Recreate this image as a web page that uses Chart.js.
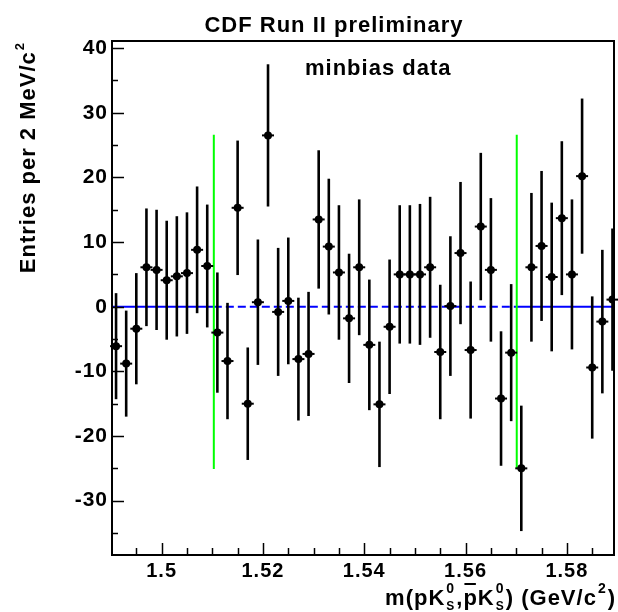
<!DOCTYPE html>
<html>
<head>
<meta charset="utf-8">
<script src="https://cdn.jsdelivr.net/npm/chart.js@4.4.1/dist/chart.umd.min.js"></script>
<style>
  html, body { margin: 0; padding: 0; background: #fff; }
  #wrap { width: 618px; height: 612px; }
</style>
</head>
<body>
<div id="wrap"><canvas id="plot" width="618" height="612"></canvas></div>
<script>
'use strict';

/* ── Data ── */
const binCenters = [
  1.491, 1.493, 1.495, 1.497, 1.499, 1.501, 1.503, 1.505, 1.507, 1.509,
  1.511, 1.513, 1.515, 1.517, 1.519, 1.521, 1.523, 1.525, 1.527, 1.529,
  1.531, 1.533, 1.535, 1.537, 1.539, 1.541, 1.543, 1.545, 1.547, 1.549,
  1.551, 1.553, 1.555, 1.557, 1.559, 1.561, 1.563, 1.565, 1.567, 1.569,
  1.571, 1.573, 1.575, 1.577, 1.579, 1.581, 1.583, 1.585, 1.587, 1.589
];
const entries = [
  -6.1, -8.8, -3.4, 6.1, 5.7, 4.1, 4.7, 5.2, 8.8, 6.3,
  -4.0, -8.4, 15.3, -15.0, 0.7, 26.5, -0.8, 0.9, -8.1, -7.3,
  13.5, 9.3, 5.3, -1.8, 6.1, -5.9, -15.1, -3.1, 5.0, 5.0,
  5.0, 6.1, -7.0, 0.1, 8.3, -6.7, 12.4, 5.7, -14.2, -7.1,
  -25.0, 6.1, 9.4, 4.6, 13.7, 5.0, 20.2, -9.4, -2.3, 1.1
];
const errors = [
  8.2, 8.2, 8.6, 9.1, 9.3, 9.2, 9.3, 9.4, 9.8, 9.5,
  9.3, 9.0, 10.4, 8.7, 9.7, 11.0, 9.9, 9.8, 9.5, 9.6,
  10.7, 10.5, 10.4, 10.0, 10.5, 10.1, 9.7, 10.4, 10.7, 10.7,
  10.9, 10.9, 10.4, 10.8, 11.0, 10.6, 11.4, 11.1, 10.4, 10.6,
  9.7, 11.5, 11.6, 11.5, 11.9, 11.6, 12.0, 11.0, 11.1, 11.0
];

const xRange = [1.4902, 1.5893];
const yRange = [-38.4, 41.1];
const xTickValues = [1.5, 1.52, 1.54, 1.56, 1.58];
const xTickLabels = ['1.5', '1.52', '1.54', '1.56', '1.58'];
const yTickValues = [-30, -20, -10, 0, 10, 20, 30, 40];
const yTickLabels = ['-30', '-20', '-10', '0', '10', '20', '30', '40'];

// signal window edges (green) and flat background level (blue)
const windowEdges = [1.5103, 1.5701];
const windowLine = [-25.1, 26.6];
const baseLevel = 0;

const FONT = '"Liberation Sans", Arial, Helvetica, sans-serif';

/* ── Error bars, drawn just before the markers ── */
const errorBars = {
  id: 'errorBars',
  beforeDatasetDraw(chart, args) {
    if (args.index !== 0) return;
    const { ctx, scales: { x, y } } = chart;
    ctx.save();
    ctx.strokeStyle = '#000';
    binCenters.forEach((c, i) => {
      const px = x.getPixelForValue(c);
      ctx.lineWidth = 2.6;
      ctx.beginPath();
      ctx.moveTo(px, y.getPixelForValue(entries[i] + errors[i]));
      ctx.lineTo(px, y.getPixelForValue(entries[i] - errors[i]));
      ctx.stroke();
      ctx.lineWidth = 2;
      const py = y.getPixelForValue(entries[i]);
      ctx.beginPath();
      ctx.moveTo(px - 6, py);
      ctx.lineTo(px + 6, py);
      ctx.stroke();
    });
    ctx.restore();
  }
};

/* ── Frame, inward ticks and ROOT-style labels ── */
function drawXTitle(ctx, right, base) {
  const main = 'bold 22px ' + FONT, sup = 'bold 14px ' + FONT, sub = 'bold 12px ' + FONT;
  const parts = [
    { t: 'm(pK' }, { sup: '0', sub: 'S' }, { t: ',' }, { t: 'p', bar: true },
    { t: 'K' }, { sup: '0', sub: 'S' }, { t: ') (GeV/c' }, { sup: '2' }, { t: ')' }
  ];
  parts.forEach(p => {
    if (p.t) { ctx.font = main; p.w = ctx.measureText(p.t).width; }
    else {
      ctx.font = sup; let w = ctx.measureText(p.sup).width;
      if (p.sub) { ctx.font = sub; w = Math.max(w, ctx.measureText(p.sub).width); }
      p.w = w + 2;
    }
  });
  let cx = right - parts.reduce((s, p) => s + p.w, 0);
  ctx.textAlign = 'left';
  ctx.textBaseline = 'alphabetic';
  parts.forEach(p => {
    if (p.t) {
      ctx.font = main;
      ctx.fillText(p.t, cx, base);
      if (p.bar) { ctx.fillRect(cx + 1, base - 22, p.w - 3, 2); }
    } else {
      ctx.font = sup; ctx.fillText(p.sup, cx + 1, base - 12);
      if (p.sub) { ctx.font = sub; ctx.fillText(p.sub, cx + 1, base + 5); }
    }
    cx += p.w;
  });
}

const rootFrame = {
  id: 'rootFrame',
  beforeDraw(chart) { chart.ctx.letterSpacing = '1px'; },
  afterDraw(chart) {
    const { ctx, chartArea: a, scales: { x, y } } = chart;
    ctx.save();
    ctx.strokeStyle = '#000';
    ctx.fillStyle = '#000';
    ctx.lineWidth = 2;
    ctx.strokeRect(a.left, a.top, a.right - a.left, a.bottom - a.top);

    // y ticks: major every 10, minor every 5
    ctx.lineWidth = 1.5;
    for (let v = -35; v <= 40; v += 5) {
      const py = Math.round(y.getPixelForValue(v)) + 0.5;
      const len = yTickValues.includes(v) ? 12 : 6;
      ctx.beginPath(); ctx.moveTo(a.left, py); ctx.lineTo(a.left + len, py); ctx.stroke();
    }
    // x ticks: major every 0.02, minor every 0.005
    for (let k = 299; k <= 317; k++) {
      const v = k * 0.005;
      const px = Math.round(x.getPixelForValue(v)) + 0.5;
      const len = xTickValues.some(t => Math.abs(t - v) < 1e-6) ? 12 : 7;
      ctx.beginPath(); ctx.moveTo(px, a.bottom); ctx.lineTo(px, a.bottom - len); ctx.stroke();
    }

    ctx.letterSpacing = '1px';
    ctx.textAlign = 'center';
    ctx.textBaseline = 'alphabetic';
    ctx.font = 'bold 22px ' + FONT;
    ctx.fillText('CDF Run II preliminary', 334, 32);

    ctx.textAlign = 'left';
    ctx.font = 'bold 22px ' + FONT;
    ctx.fillText('minbias data', 305, 75);

    // y title, rotated, ending at the top of the axis
    ctx.save();
    ctx.translate(35, 42);
    ctx.rotate(-Math.PI / 2);
    ctx.font = 'bold 13px ' + FONT;
    const supW = ctx.measureText('2').width + 1;
    ctx.textAlign = 'right';
    ctx.fillText('2', 0, -11);
    ctx.font = 'bold 22px ' + FONT;
    ctx.fillText('Entries per 2 MeV/c', -supW, 0);
    ctx.restore();

    drawXTitle(ctx, 616, 605);
    ctx.restore();
  }
};

/* ── Chart ── */
const points = binCenters.map((c, i) => ({ x: c, y: entries[i] }));
const lineStyle = { showLine: true, pointRadius: 0, fill: false, tension: 0 };

new Chart(document.getElementById('plot'), {
  type: 'scatter',
  data: {
    datasets: [
      { data: points, pointRadius: 4, pointHoverRadius: 4, pointBackgroundColor: '#000',
        pointBorderWidth: 0, showLine: false, order: 0 },
      { ...lineStyle, data: [{ x: windowEdges[0], y: windowLine[0] }, { x: windowEdges[0], y: windowLine[1] }],
        borderColor: '#00ff00', borderWidth: 2, order: 2 },
      { ...lineStyle, data: [{ x: windowEdges[1], y: windowLine[0] }, { x: windowEdges[1], y: windowLine[1] }],
        borderColor: '#00ff00', borderWidth: 2, order: 2 },
      { ...lineStyle, data: [{ x: xRange[0], y: baseLevel }, { x: windowEdges[0], y: baseLevel }],
        borderColor: '#0000ff', borderWidth: 2, order: 3 },
      { ...lineStyle, data: [{ x: windowEdges[0], y: baseLevel }, { x: windowEdges[1], y: baseLevel }],
        borderColor: '#0000ff', borderWidth: 2, borderDash: [8, 4], order: 3 },
      { ...lineStyle, data: [{ x: windowEdges[1], y: baseLevel }, { x: xRange[1], y: baseLevel }],
        borderColor: '#0000ff', borderWidth: 2, order: 3 }
    ]
  },
  options: {
    responsive: false,
    animation: false,
    events: [],
    layout: { padding: { top: 41, right: 3, left: 0, bottom: 0 } },
    plugins: { legend: { display: false }, tooltip: { enabled: false } },
    scales: {
      x: {
        type: 'linear', min: xRange[0], max: xRange[1],
        grid: { display: false, drawTicks: false }, border: { display: false },
        afterBuildTicks: s => { s.ticks = xTickValues.map(v => ({ value: v })); },
        afterFit: s => { s.height = 57; },
        ticks: {
          color: '#000', padding: 4, maxRotation: 0, autoSkip: false,
          font: { family: FONT, size: 20, weight: 'bold' },
          callback: (v, i) => xTickLabels[i]
        }
      },
      y: {
        type: 'linear', min: yRange[0], max: yRange[1],
        grid: { display: false, drawTicks: false }, border: { display: false },
        afterBuildTicks: s => { s.ticks = yTickValues.map(v => ({ value: v })); },
        afterFit: s => { s.width = 112; },
        ticks: {
          color: '#000', padding: 4, autoSkip: false,
          font: { family: FONT, size: 21, weight: 'bold' },
          callback: (v, i) => yTickLabels[i]
        }
      }
    }
  },
  plugins: [errorBars, rootFrame]
});
</script>
</body>
</html>
